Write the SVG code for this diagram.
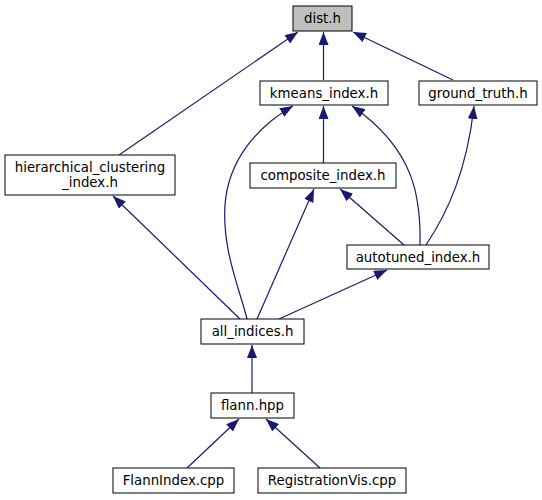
<svg xmlns="http://www.w3.org/2000/svg" width="542" height="500" viewBox="0 0 542 500">
<style>
.n rect{fill:#ffffff;stroke:#000000;stroke-width:1}
.n text{font-family:"DejaVu Sans",sans-serif;font-size:13.33px;fill:#000000;text-anchor:middle}
#edges path{fill:none;stroke:#191970;stroke-width:1.2}
</style>
<defs>
<marker id="ah" markerUnits="userSpaceOnUse" markerWidth="13" markerHeight="10" refX="13" refY="5" orient="auto">
<path d="M0,0 L13,5 L0,10 z" fill="#191970"/>
</marker>
</defs>
<rect width="542" height="500" fill="#ffffff"/>
<g id="edges">
<path marker-end="url(#ah)" d="M323.5,80 L323.5,32"/>
<path marker-end="url(#ah)" d="M453,80 L353,32"/>
<path marker-end="url(#ah)" d="M119,155 L298,32"/>
<path marker-end="url(#ah)" d="M323.5,163 L323.5,106"/>
<path marker-end="url(#ah)" d="M247,319 C240,290 222,250 225,205 C228,162 255,128 293,106"/>
<path marker-end="url(#ah)" d="M420,245 C421,200 416,150 352,106"/>
<path marker-end="url(#ah)" d="M426,245 C448,212 467,170 474,106"/>
<path marker-end="url(#ah)" d="M240,319 L113,196"/>
<path marker-end="url(#ah)" d="M257,319 L314,189"/>
<path marker-end="url(#ah)" d="M404,245 L340,189"/>
<path marker-end="url(#ah)" d="M279,319 L387,270"/>
<path marker-end="url(#ah)" d="M252,393 L252,345"/>
<path marker-end="url(#ah)" d="M187,468 L239,419"/>
<path marker-end="url(#ah)" d="M320,468 L266,419"/>
</g>
<g id="dist" class="n"><rect x="293" y="6" width="59" height="25" style="fill:#bfbfbf"/><text x="322.5" y="23">dist.h</text></g>
<g id="kmeans" class="n"><rect x="260" y="81" width="128" height="24"/><text x="324" y="97.5">kmeans_index.h</text></g>
<g id="ground_truth" class="n"><rect x="419" y="81" width="118" height="24"/><text x="478" y="97.5">ground_truth.h</text></g>
<g id="hierarchical" class="n"><rect x="5" y="155" width="170" height="40"/><text x="90" y="171.5">hierarchical_clustering</text><text x="90" y="186.5">_index.h</text></g>
<g id="composite" class="n"><rect x="250" y="163" width="146" height="25"/><text x="323" y="180">composite_index.h</text></g>
<g id="autotuned" class="n"><rect x="347" y="245" width="142" height="24"/><text x="418" y="261.5">autotuned_index.h</text></g>
<g id="all_indices" class="n"><rect x="201" y="319" width="103" height="25"/><text x="252.5" y="336">all_indices.h</text></g>
<g id="flann" class="n"><rect x="211" y="393" width="83" height="25"/><text x="252.5" y="410">flann.hpp</text></g>
<g id="flannindex" class="n"><rect x="113" y="468" width="121" height="25"/><text x="173.5" y="485">FlannIndex.cpp</text></g>
<g id="registrationvis" class="n"><rect x="258" y="468" width="148" height="25"/><text x="332" y="485">RegistrationVis.cpp</text></g>
</svg>
